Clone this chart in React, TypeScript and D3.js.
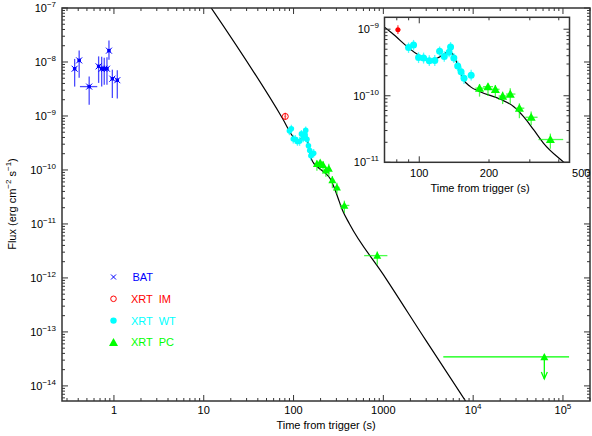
import React from 'react'
import * as d3 from 'd3'

// each row: [time, flux, timeLo, timeHi, fluxLo, fluxHi]
const batData = [
  [0.365, 7.5e-9, 0.35, 0.38, 3.5e-9, 1.14e-8],
  [0.41, 1.07e-8, 0.395, 0.425, 5.1e-9, 1.64e-8],
  [0.53, 3.5e-9, 0.418, 0.652, 1.62e-9, 5.4e-9],
  [0.675, 8.3e-9, 0.655, 0.695, 4.1e-9, 1.27e-8],
  [0.73, 7.5e-9, 0.71, 0.75, 3.5e-9, 1.25e-8],
  [0.78, 7.5e-9, 0.76, 0.80, 3.8e-9, 1.2e-8],
  [0.836, 7.5e-9, 0.815, 0.855, 3.8e-9, 1.22e-8],
  [0.88, 1.62e-8, 0.86, 0.90, 1.1e-8, 2.5e-8],
  [0.96, 4.9e-9, 0.93, 0.99, 2.15e-9, 7.2e-9],
  [1.09, 4.6e-9, 1.05, 1.13, 2.1e-9, 7.0e-9],
]

const imData = [
  [80.9, 9.8e-10, 79, 83, 8.5e-10, 1.15e-9],
]

const wtData = [
  [89.9, 5.3e-10, 87.5, 92.2, 4.4e-10, 6.3e-10],
  [94.5, 5.8e-10, 92.2, 96.8, 4.8e-10, 6.9e-10],
  [99.3, 3.75e-10, 96.8, 101.8, 3.1e-10, 4.5e-10],
  [104.4, 3.7e-10, 101.8, 107.0, 3.05e-10, 4.45e-10],
  [110.5, 3.37e-10, 107.8, 113.2, 2.8e-10, 4.05e-10],
  [116.7, 3.4e-10, 114.0, 119.4, 2.8e-10, 4.1e-10],
  [122.4, 4.65e-10, 119.6, 125.2, 3.9e-10, 5.5e-10],
  [128.2, 3.9e-10, 125.4, 131.0, 3.25e-10, 4.65e-10],
  [134.5, 4.5e-10, 131.8, 137.2, 3.8e-10, 5.3e-10],
  [136.5, 5.4e-10, 134.0, 139.0, 4.6e-10, 6.4e-10],
  [141.0, 3.7e-10, 138.5, 143.5, 3.1e-10, 4.4e-10],
  [146.5, 2.8e-10, 144.0, 149.0, 2.35e-10, 3.35e-10],
  [151.5, 2.3e-10, 149.0, 154.0, 1.9e-10, 2.75e-10],
  [156.0, 1.83e-10, 153.5, 158.5, 1.5e-10, 2.2e-10],
  [167.5, 2.03e-10, 164.5, 170.5, 1.7e-10, 2.45e-10],
]

const pcData = [
  [182, 1.3e-10, 174.5, 192.8, 9.7e-11, 1.5e-10],
  [198, 1.37e-10, 188.6, 208.1, 9.9e-11, 1.53e-10],
  [213, 1.25e-10, 204, 222, 9.4e-11, 1.45e-10],
  [229, 9.9e-11, 220, 240, 7.5e-11, 1.15e-10],
  [247, 1.06e-10, 237, 260, 7.6e-11, 1.3e-10],
  [270.5, 6.5e-11, 260, 284, 4.6e-11, 7.7e-11],
  [304, 4.75e-11, 287, 324, 3.6e-11, 5.8e-11],
  [368, 2.2e-11, 327, 418, 1.6e-11, 2.7e-11],
  [855, 2.59e-12, 611, 1109, 1.76e-12, 3.1e-12],
]

// upper limit: [time, flux, timeLo, timeHi]
const pcUpperLimit = [62000, 3.44e-14, 4650, 117000]

// fitted model curve, knots: [time, flux]
const modelKnots = [
  [10, 1.6e-7],
  [75.7, 8.9e-10],
  [99.3, 4.1e-10],
  [113.5, 3.45e-10],
  [123, 3.87e-10],
  [134, 4.6e-10],
  [140.6, 4.1e-10],
  [147.8, 2.6e-10],
  [155.4, 1.73e-10],
  [166, 1.37e-10],
  [183, 1.15e-10],
  [224, 8.85e-11],
  [256, 6.85e-11],
  [282, 4.85e-11],
  [312, 3.06e-11],
  [344, 1.93e-11],
  [420, 1.0e-11],
  [1000, 1.15e-12],
  [3000, 6.8e-14],
  [10000, 3.2e-15],
]

const legendItems = ['BAT', 'XRT  IM', 'XRT  WT', 'XRT  PC']

const mainXLabels = [1, 10, 100, 1000, 1e4, 1e5]
const mainYLabels = [-7, -8, -9, -10, -11, -12, -13, -14]
const insetXLabels = [100, 200, 500]
const insetYLabels = [-9, -10, -11]

const BLUE = '#0000ff'
const RED = '#ff0000'
const CYAN = '#00ffff'
const GREEN = '#00ff00'
const AXIS = '#333'
const FONT = '"Liberation Sans", Arial, sans-serif'

function logTicks(a: number, b: number) {
  const out: { v: number; major: boolean }[] = []
  for (let e = Math.floor(Math.log10(a)); e <= Math.ceil(Math.log10(b)); e++) {
    for (let m = 1; m <= 9; m++) {
      const v = m * Math.pow(10, e)
      if (v >= a * 0.999 && v <= b * 1.001) out.push({ v, major: m === 1 })
    }
  }
  return out
}

function Pow({ e, x, y, anchor }: any) {
  return (
    <text x={x} y={y} textAnchor={anchor}>
      10
      <tspan dy={-5} fontSize={8}>{e < 0 ? '\u2212' + -e : String(e)}</tspan>
    </text>
  )
}

function Frame({ x, y, majorLen, minorLen }: any) {
  const [x0, x1] = x.range()
  const [y0, y1] = y.range() // y0 bottom, y1 top
  const xt = logTicks(x.domain()[0], x.domain()[1])
  const yt = logTicks(y.domain()[0], y.domain()[1])
  return (
    <g stroke={AXIS} strokeWidth={1}>
      {xt.map((t, i) => {
        const px = x(t.v)
        const L = t.major ? majorLen : minorLen
        return (
          <g key={'x' + i}>
            <line x1={px} x2={px} y1={y0} y2={y0 - L} />
            <line x1={px} x2={px} y1={y1} y2={y1 + L} />
          </g>
        )
      })}
      {yt.map((t, i) => {
        const py = y(t.v)
        const L = t.major ? majorLen : minorLen
        return (
          <g key={'y' + i}>
            <line x1={x0} x2={x0 + L} y1={py} y2={py} />
            <line x1={x1} x2={x1 - L} y1={py} y2={py} />
          </g>
        )
      })}
      <rect x={x0} y={y1} width={x1 - x0} height={y0 - y1} fill="none" strokeWidth={1.5} />
    </g>
  )
}

function Points({ data, x, y, color, kind, size }: any) {
  return (
    <g>
      {data.map((d: number[], i: number) => {
        const px = x(d[0])
        const py = y(d[1])
        let mark
        if (kind === 'cross') {
          mark = (
            <g stroke={color} strokeWidth={1}>
              <path d={`M${px - 3},${py - 3}L${px + 3},${py + 3}M${px - 3},${py + 3}L${px + 3},${py - 3}`} />
              <rect x={px - 1.2} y={py - 1.2} width={2.4} height={2.4} fill={color} />
            </g>
          )
        } else if (kind === 'open') {
          mark = <circle cx={px} cy={py} r={size} fill="none" stroke={color} strokeWidth={1} />
        } else if (kind === 'dot') {
          mark = <circle cx={px} cy={py} r={size} fill={color} />
        } else {
          mark = (
            <path
              d={`M${px},${py - size}L${px + size},${py + size * 0.8}L${px - size},${py + size * 0.8}Z`}
              fill={color}
            />
          )
        }
        return (
          <g key={i}>
            <g stroke={color} strokeWidth={1.3} opacity={0.7}>
              <line x1={x(d[2])} x2={x(d[3])} y1={py} y2={py} />
              <line x1={px} x2={px} y1={y(d[4])} y2={y(d[5])} />
            </g>
            {mark}
          </g>
        )
      })}
    </g>
  )
}

function Model({ x, y }: any) {
  const line = d3
    .line<number[]>()
    .x((d) => x(d[0]))
    .y((d) => y(d[1]))
    .curve(d3.curveMonotoneX)
  return <path d={line(modelKnots) || ''} fill="none" stroke="#000" strokeWidth={1.2} />
}

export default function App() {
  const x = d3.scaleLog().domain([0.264, 2.0e5]).range([62, 590])
  const y = d3.scaleLog().domain([5.25e-15, 1e-7]).range([401, 8])
  const ix = d3.scaleLog().domain([70.8, 445]).range([384.5, 569.5])
  const iy = d3.scaleLog().domain([1e-11, 1.51e-9]).range([162.3, 17.3])

  const [ulT, ulF, ulLo, ulHi] = pcUpperLimit
  const ulX = x(ulT)
  const ulY = y(ulF)

  return (
    <svg width={592} height={436} style={{ display: 'block', position: 'absolute', left: 0, top: 0 }}
      fontFamily={FONT} fontSize={11}>
      <rect width={592} height={436} fill="#fff" />
      <defs>
        <clipPath id="mainClip">
          <rect x={62} y={8} width={528} height={393} />
        </clipPath>
        <clipPath id="insetClip">
          <rect x={384.5} y={17.3} width={185} height={145} />
        </clipPath>
      </defs>

      {/* main panel */}
      <g clipPath="url(#mainClip)">
        <Model x={x} y={y} />
        <Points data={batData} x={x} y={y} color={BLUE} kind="cross" size={3} />
        <Points data={imData} x={x} y={y} color={RED} kind="open" size={3} />
        <Points data={wtData} x={x} y={y} color={CYAN} kind="dot" size={2.8} />
        <Points data={pcData} x={x} y={y} color={GREEN} kind="tri" size={4} />
        <g stroke={GREEN} strokeWidth={1.3}>
          <line x1={x(ulLo)} x2={x(ulHi)} y1={ulY} y2={ulY} />
          <line x1={ulX} x2={ulX} y1={ulY} y2={ulY + 22} />
          <path d={`M${ulX - 3},${ulY + 15}L${ulX},${ulY + 22}L${ulX + 3},${ulY + 15}`} fill="none" />
        </g>
        <path d={`M${ulX},${ulY - 4}L${ulX + 4},${ulY + 3.2}L${ulX - 4},${ulY + 3.2}Z`} fill={GREEN} />
      </g>
      <Frame x={x} y={y} majorLen={6} minorLen={3} />
      <g fill="#000">
        {mainXLabels.map((v, i) =>
          v < 1e4 ? (
            <text key={i} x={x(v)} y={414} textAnchor="middle">{String(v)}</text>
          ) : (
            <Pow key={i} e={Math.round(Math.log10(v))} x={x(v)} y={414} anchor="middle" />
          )
        )}
        {mainYLabels.map((e) => (
          <Pow key={e} e={e} x={56} y={y(Math.pow(10, e)) + 4} anchor="end" />
        ))}
        <text x={326} y={429} textAnchor="middle">Time from trigger (s)</text>
        <text transform="translate(16,204) rotate(-90)" textAnchor="middle">
          Flux (erg cm<tspan dy={-5} fontSize={8}>{'\u22122'}</tspan>
          <tspan dy={5}> s</tspan>
          <tspan dy={-5} fontSize={8}>{'\u22121'}</tspan>
          <tspan dy={5}>)</tspan>
        </text>
      </g>

      {/* legend */}
      {legendItems.map((name, i) => {
        const ly = 277 + i * 21.8
        const col = [BLUE, RED, CYAN, GREEN][i]
        let sym
        if (i === 0)
          sym = <path d={`M111,${ly - 2.5}L116,${ly + 2.5}M111,${ly + 2.5}L116,${ly - 2.5}`} stroke={col} />
        else if (i === 1) sym = <circle cx={113.5} cy={ly} r={2.8} fill="none" stroke={col} />
        else if (i === 2) sym = <circle cx={113.5} cy={ly} r={3.2} fill={col} />
        else sym = <path d={`M113.5,${ly - 4.5}L118,${ly + 3.5}L109,${ly + 3.5}Z`} fill={col} />
        return (
          <g key={name}>
            {sym}
            <text x={i === 0 ? 132.5 : 131} y={ly + 4} fill={col} style={{ whiteSpace: 'pre' }}>{name}</text>
          </g>
        )
      })}

      {/* inset */}
      <rect x={384.5} y={17.3} width={185} height={145} fill="#fff" />
      <g clipPath="url(#insetClip)">
        <Model x={ix} y={iy} />
        <Points data={imData} x={ix} y={iy} color={RED} kind="dot" size={2.5} />
        <Points data={wtData} x={ix} y={iy} color={CYAN} kind="dot" size={3.5} />
        <Points data={pcData} x={ix} y={iy} color={GREEN} kind="tri" size={4.5} />
      </g>
      <Frame x={ix} y={iy} majorLen={6} minorLen={3} />
      <g fill="#000">
        {insetXLabels.map((v) => (
          <text key={v} x={ix(v)} y={177} textAnchor="middle">{String(v)}</text>
        ))}
        {insetYLabels.map((e) => (
          <Pow key={e} e={e} x={379} y={iy(Math.pow(10, e)) + 4} anchor="end" />
        ))}
        <text x={480} y={192} textAnchor="middle">Time from trigger (s)</text>
      </g>
    </svg>
  )
}
